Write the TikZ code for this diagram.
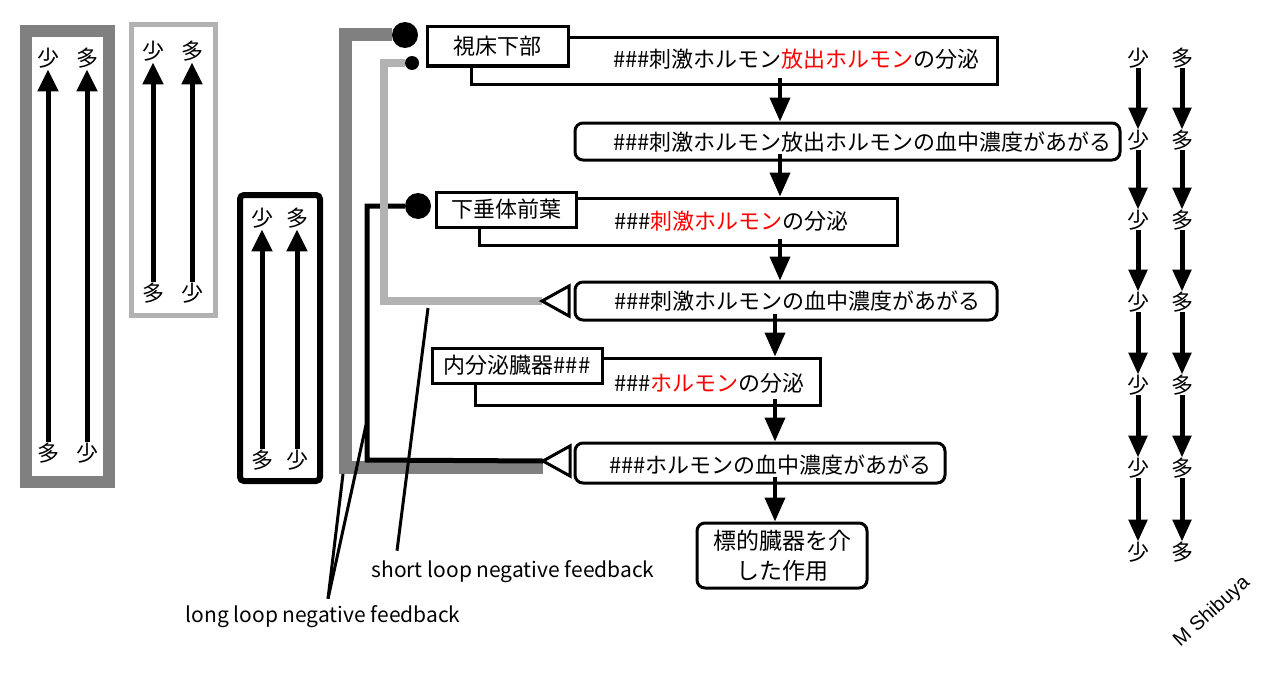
\documentclass[tikz,border=0pt]{standalone}
\usepackage{fontspec}
\setmainfont{Noto Sans CJK JP}
\newfontfamily\signfont{Liberation Sans}
\usetikzlibrary{arrows.meta,positioning}
\begin{document}
\begin{tikzpicture}[x=1pt,y=-1pt,
	jp/.style={font=\fontsize{22}{26}\selectfont,inner sep=1pt},
	small/.style={font=\fontsize{22}{26}\selectfont,inner sep=0pt},
	lbl/.style={font=\fontsize{21}{24}\selectfont,inner sep=2pt},
	box/.style={draw,line width=3pt,fill=white},
	rbox/.style={box,rounded corners=8pt},
	flow/.style={line width=4pt,shorten <=-8pt,-{Triangle[width=20pt,length=24pt]}},
	up/.style={line width=5pt,-{Triangle[width=20pt,length=22pt]}},
	down/.style={line width=5pt,-{Triangle[width=18pt,length=22pt]}},
	dot/.style={circle,fill,inner sep=0pt},
	opentri/.style={line width=3pt,fill=white},
	pointer/.style={line width=3pt}]
\useasboundingbox (0,0) rectangle (1284,677);
\draw[line width=12pt,black!50] (26,31) rectangle (109,482);
\draw[line width=5pt,black!30] (131.5,24.5) rectangle (215.5,315.5);
\draw[line width=6pt,rounded corners=4pt] (240,195) rectangle (320,481);
\foreach \n/\l/\r/\t/\b in {a/48/87/58/453,b/153/192/51/293,c/262/297/218/460}{
	\node[jp] (\n TL) at (\l,\t) {少};
	\node[jp] (\n TR) at (\r,\t) {多};
	\node[jp] (\n BL) at (\l,\b) {多};
	\node[jp] (\n BR) at (\r,\b) {少};
	\draw[up] (\n BL) -- (\n TL);
	\draw[up] (\n BR) -- (\n TR);
}
\coordinate (colL) at (780,0);
\coordinate (colR) at (775,0);
\node[box,minimum width=526pt,minimum height=46pt] (secA) at (734,61) {};
\node[box,jp,minimum width=141pt,minimum height=39pt] (hypo) at (497.5,46.5) {視床下部};
\node[jp,anchor=west] (txtA) at (612,59) {\#\#\#刺激ホルモン\textcolor{red}{放出ホルモン}の分泌};
\node[rbox,minimum width=545pt,minimum height=37pt] (secB) at (847.5,141.5) {};
\node[jp,anchor=west] (txtB) at (612,142) {\#\#\#刺激ホルモン放出ホルモンの血中濃度があがる};
\node[box,minimum width=418pt,minimum height=47pt] (secC) at (688,221.5) {};
\node[box,jp,minimum width=140pt,minimum height=35pt] (pit) at (506,209.5) {下垂体前葉};
\node[jp,anchor=west] (txtC) at (613,221) {\#\#\#\textcolor{red}{刺激ホルモン}の分泌};
\node[rbox,minimum width=422pt,minimum height=38pt] (secD) at (786,301) {};
\node[jp,anchor=west] (txtD) at (613,301) {\#\#\#刺激ホルモンの血中濃度があがる};
\node[box,minimum width=345pt,minimum height=47pt] (secE) at (647.5,381.5) {};
\node[box,jp,minimum width=170pt,minimum height=35pt] (endo) at (517,365.5) {内分泌臓器\#\#\#};
\node[jp,anchor=west] (txtE) at (613,383) {\#\#\#\textcolor{red}{ホルモン}の分泌};
\node[rbox,minimum width=370pt,minimum height=40pt] (secF) at (760,463) {};
\node[jp,anchor=west] (txtF) at (608,465) {\#\#\#ホルモンの血中濃度があがる};
\node[rbox,font=\fontsize{23}{30}\selectfont,align=center,minimum width=170pt,minimum height=65pt] (secG) at (782,555.5) {標的臓器を介\\した作用};
\draw[flow] (secA.south -| colL) -- (secB.north -| colL);
\draw[flow] (secB.south -| colL) -- (secC.north -| colL);
\draw[flow] (secC.south -| colL) -- (secD.north -| colL);
\draw[flow] (secD.south -| colR) -- (secE.north -| colR);
\draw[flow] (secE.south -| colR) -- (secF.north -| colR);
\draw[flow] (secF.south -| colR) -- (secG.north -| colR);
\node[dot,minimum size=26pt] (dotA) at (405,35) {};
\node[dot,minimum size=14pt] (dotB) at (412,63) {};
\node[dot,minimum size=26pt] (dotC) at (418,206) {};
\coordinate (trD) at (542,301);
\coordinate (trF) at (543,461);
\coordinate (longBend) at (345,467);
\coordinate (blackBend) at (367,460);
\coordinate (shortBend) at (384,301);
\draw[line width=13pt,black!50] (dotA.west) -| (longBend) -- (longBend -| trF);
\draw[line width=5pt] (dotC.west) -| (blackBend) -- (trF);
\draw[line width=8pt,black!30] (dotB.west) -| (shortBend) -- (trD);
\draw[opentri] (trD) -- ++(27,-15) -- ++(0,30) -- cycle;
\draw[opentri] (trF) -- ++(27,-15) -- ++(0,30) -- cycle;
\node[lbl] (shortLbl) at (513,572) {short loop negative feedback};
\node[lbl] (longLbl) at (323,617) {long loop negative feedback};
\coordinate (shortTip) at (428,308);
\coordinate (longTipA) at (343,474);
\coordinate (longTipB) at (366,425);
\draw[pointer] ([xshift=-116pt,yshift=8pt]shortLbl.north) -- (shortTip);
\draw[pointer] ([xshift=5pt,yshift=5pt]longLbl.north) -- (longTipA);
\draw[pointer] ([xshift=5pt,yshift=5pt]longLbl.north) -- (longTipB);
\foreach \y [count=\i] in {58,140,220,302,385,468,552}{
	\node[small] (few\i) at (1138,\y) {少};
	\node[small] (many\i) at (1182,\y) {多};
}
\foreach \i in {1,...,6}{
	\pgfmathtruncatemacro\j{\i+1}
	\draw[down] (few\i) -- (few\j);
	\draw[down] (many\i) -- (many\j);
}
\node[font=\signfont\fontsize{20}{24}\selectfont,rotate=42] (sign) at (1212,612) {M Shibuya};
\end{tikzpicture}
\end{document}
